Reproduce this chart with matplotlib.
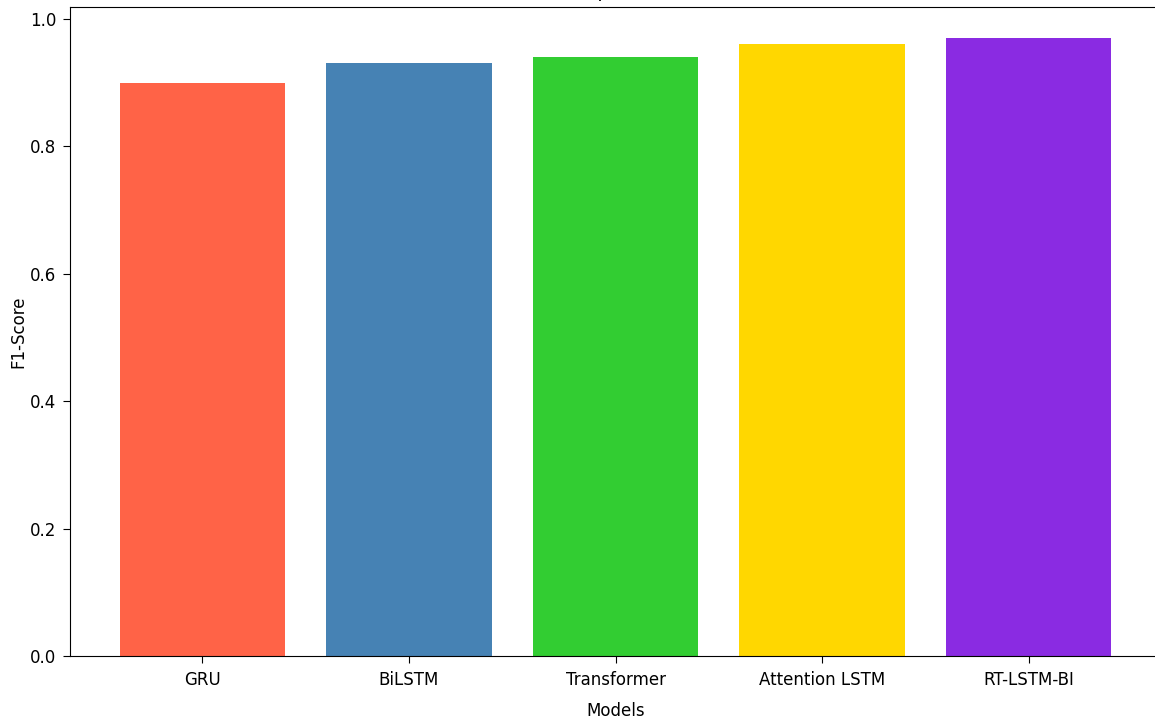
import matplotlib
matplotlib.use("Agg")
import matplotlib.pyplot as plt

# F1-score per model
models = ["GRU", "BiLSTM", "Transformer", "Attention LSTM", "RT-LSTM-BI"]
f1_scores = [0.90, 0.93, 0.94, 0.96, 0.97]
bar_colors = ["tomato", "steelblue", "limegreen", "gold", "blueviolet"]

plt.rcParams["font.family"] = ["DejaVu Sans"]

fig = plt.figure(figsize=(11.55, 7.22), dpi=100)
# axes run slightly past the right edge, title sits above the top edge (cropped screenshot)
ax = fig.add_axes([70 / 1155, 1 - 656 / 722, 1091 / 1155, 649 / 722])

ax.bar(models, f1_scores, color=bar_colors, width=0.8)

ax.set_title("F1-Score Comparison of Models", fontsize=14, pad=7)
ax.set_xlabel("Models", fontsize=12, labelpad=9)
ax.set_ylabel("F1-Score", fontsize=12, labelpad=2)
ax.tick_params(axis="x", labelsize=12, pad=6, length=5)
ax.tick_params(axis="y", labelsize=12, pad=5, length=5)

fig.savefig("out.png", dpi=100)
